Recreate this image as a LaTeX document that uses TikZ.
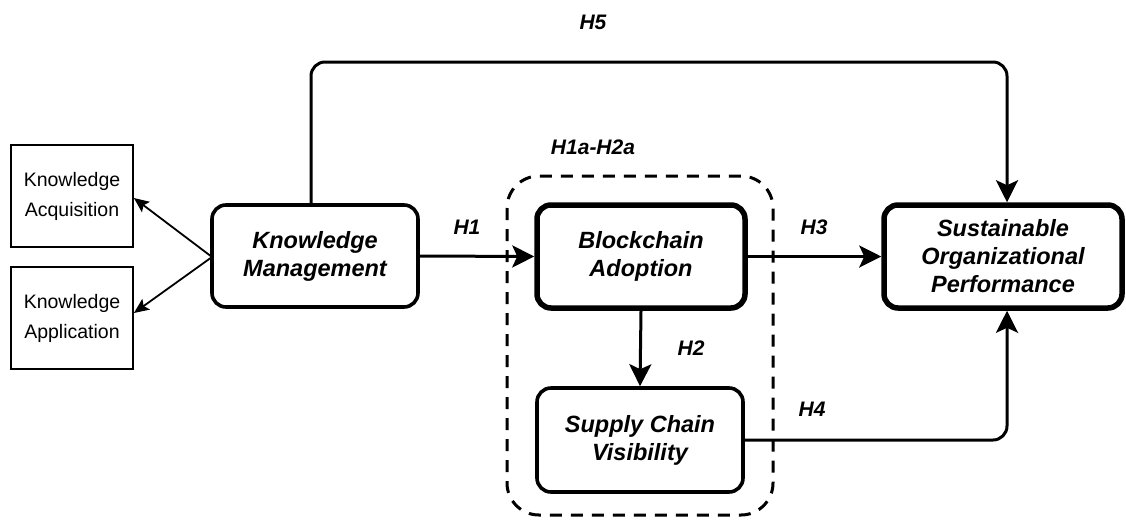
\documentclass[tikz,border=0pt]{standalone}
\usepackage{fontspec}
\setmainfont{Liberation Sans}
\usetikzlibrary{arrows.meta}
\begin{document}
\begin{tikzpicture}[x=1pt,y=-1pt,
  construct/.style={draw,line width=3.6pt,rounded corners=14pt,align=center,
    font=\fontsize{23.5}{28}\selectfont\bfseries\itshape,inner sep=0pt},
  keyconstruct/.style={construct,line width=5.5pt},
  dimension/.style={draw,line width=1.8pt,align=center,inner sep=0pt,
    font=\fontsize{19.5}{30}\selectfont},
  link/.style={line width=3pt,-{Stealth[length=22pt,width=22pt,inset=5pt]}},
  sublink/.style={line width=1.8pt,-{Stealth[length=15pt,width=13pt,inset=3pt]}},
  hyp/.style={font=\fontsize{21}{25}\selectfont\bfseries\itshape,inner sep=0pt}]
\useasboundingbox (0,0) rectangle (1126,520);

% mediating group
\draw[line width=3pt,dash pattern=on 12pt off 9pt,rounded corners=32pt]
  (507,176) rectangle (773,515);

% constructs
\node[dimension,minimum width=122pt,minimum height=102pt] (ka) at (72,196) {Knowledge\\Acquisition};
\node[dimension,minimum width=122pt,minimum height=102pt] (kap) at (72,318) {Knowledge\\Application};
\node[construct,minimum width=206pt,minimum height=102pt] (km) at (315,256) {Knowledge\\Management};
\node[keyconstruct,minimum width=208pt,minimum height=103pt] (ba) at (641,256.5) {Blockchain\\Adoption};
\node[construct,minimum width=206pt,minimum height=104pt] (scv) at (640,440) {Supply Chain\\Visibility};
\node[keyconstruct,minimum width=238pt,minimum height=103pt] (sop) at (1003,256.5) {Sustainable\\Organizational\\Performance};

% dimensions of knowledge management
\coordinate (kmsrc) at (212,257);
\draw[sublink] (kmsrc) -- (ka.east |- 0,198);
\draw[sublink] (kmsrc) -- (kap.east |- 0,313);

% hypothesised paths
\draw[link] (km.east) -- (ba.west);
\draw[link] (ba.east) -- (sop.west);
\draw[link] (ba.south) -- (scv.north);
\draw[link,rounded corners=14pt] (scv.east) -- (1007,440) -- (sop.south -| 1007,0);
\draw[link,rounded corners=14pt] (km.north -| 311,0) -- (311,62) -- (1007,62) -- (sop.north -| 1007,0);

% hypothesis labels
\node[hyp] (h5) at (593,22) {H5};
\node[hyp] (h1a) at (593,147) {H1a-H2a};
\node[hyp] (h1) at (467,227) {H1};
\node[hyp] (h3) at (814,227) {H3};
\node[hyp] (h2) at (691,348) {H2};
\node[hyp] (h4) at (812,409) {H4};
\end{tikzpicture}
\end{document}
